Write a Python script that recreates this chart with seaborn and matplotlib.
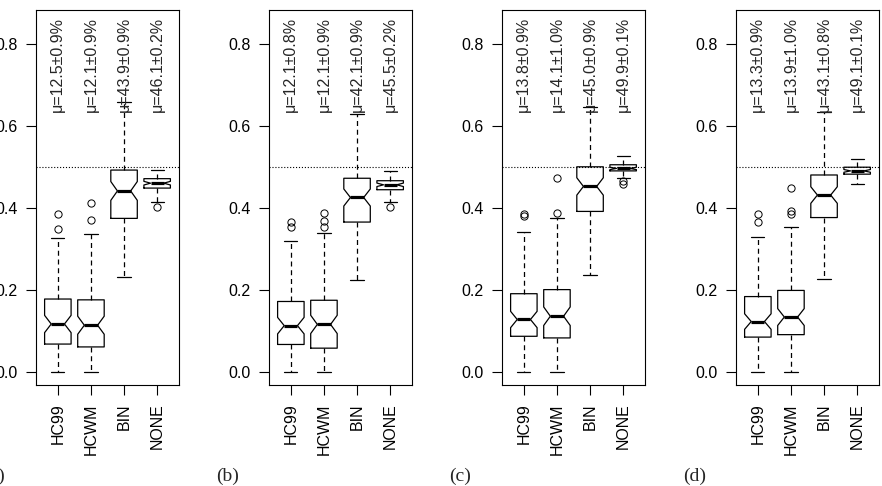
import numpy as np
import pandas as pd
import seaborn as sns
import matplotlib.pyplot as plt

methods = ['HC99', 'HCWM', 'BIN', 'NONE']
panel_names = ['(a)', '(b)', '(c)', '(d)']

# one row per panel, one column per method
whisk_lo = [[0.0, 0.0, 0.231, 0.416],
            [0.0, 0.0, 0.225, 0.414],
            [0.0, 0.0, 0.237, 0.473],
            [0.0, 0.0, 0.227, 0.459]]
q1 = [[0.068, 0.061, 0.375, 0.449],
      [0.067, 0.058, 0.366, 0.445],
      [0.087, 0.083, 0.392, 0.491],
      [0.085, 0.091, 0.377, 0.483]]
median = [[0.117, 0.114, 0.442, 0.461],
          [0.113, 0.116, 0.426, 0.457],
          [0.128, 0.136, 0.453, 0.497],
          [0.123, 0.134, 0.432, 0.491]]
q3 = [[0.178, 0.176, 0.493, 0.472],
      [0.172, 0.175, 0.473, 0.467],
      [0.191, 0.201, 0.501, 0.506],
      [0.184, 0.199, 0.481, 0.500]]
whisk_hi = [[0.326, 0.337, 0.660, 0.493],
            [0.320, 0.339, 0.630, 0.491],
            [0.342, 0.376, 0.648, 0.527],
            [0.329, 0.355, 0.635, 0.520]]
outliers = [[[0.348, 0.385], [0.372, 0.413], [], [0.402]],
            [[0.353, 0.367], [0.353, 0.369, 0.388], [], [0.404]],
            [[0.382, 0.385], [0.389, 0.473], [], [0.459, 0.466]],
            [[0.366, 0.385], [0.386, 0.392, 0.449], [], []]]
mu_labels = [['μ=12.5±0.9%', 'μ=12.1±0.9%', 'μ=43.9±0.9%', 'μ=46.1±0.2%'],
             ['μ=12.1±0.8%', 'μ=12.1±0.9%', 'μ=42.1±0.9%', 'μ=45.5±0.2%'],
             ['μ=13.8±0.9%', 'μ=14.1±1.0%', 'μ=45.0±0.9%', 'μ=49.9±0.1%'],
             ['μ=13.3±0.9%', 'μ=13.9±1.0%', 'μ=43.1±0.8%', 'μ=49.1±0.1%']]

# repeats per quartile block, so the notch width comes out like the original (n ~ 65)
block = 21

sns.set_style('ticks')
plt.rcParams['font.family'] = ['Liberation Sans', 'DejaVu Sans']

W, H = 882, 486
fig = plt.figure(figsize=(W / 100, H / 100), dpi=100)
lefts = [36, 269, 502, 736]

for p in range(4):
    # build a sample per box that gives back the read quartiles/whiskers/outliers
    rows = []
    for i, m in enumerate(methods):
        vals = ([whisk_lo[p][i]] + [q1[p][i]] * block + [median[p][i]] * block +
                [q3[p][i]] * block + [whisk_hi[p][i]] + outliers[p][i])
        rows += [(m, v) for v in vals]
    df = pd.DataFrame(rows, columns=['method', 'value'])

    ax = fig.add_axes([lefts[p] / W, (H - 385) / H, 143 / W, 375 / H])
    sns.boxplot(data=df, x='method', y='value', order=methods, ax=ax,
                notch=True, fill=False, color='black', width=0.8, linewidth=0.9,
                whis=1.5,
                medianprops={'linewidth': 2.3},
                whiskerprops={'linestyle': (0, (4, 3))},
                flierprops={'marker': 'o', 'markersize': 5.2, 'markerfacecolor': 'none',
                            'markeredgecolor': 'black', 'markeredgewidth': 0.7})
    ax.axhline(0.5, linestyle=':', color='black', linewidth=0.8, zorder=0)
    for i in range(4):
        ax.text(i, 0.635, mu_labels[p][i], rotation=90, ha='center', va='bottom',
                fontsize=11.5)

    ax.set_xlim(-0.66, 3.66)
    ax.set_ylim(-0.032, 0.884)
    ax.set_yticks([0.0, 0.2, 0.4, 0.6, 0.8])
    ax.set_yticklabels(['0.0', '0.2', '0.4', '0.6', '0.8'])
    ax.set_xticks(range(4))
    ax.set_xticklabels(methods, rotation=90)
    ax.set_xlabel('')
    ax.set_ylabel('')
    ax.tick_params(length=7, width=0.8, pad=6, labelsize=11.5, colors='black')
    for s in ax.spines.values():
        s.set_linewidth(0.8)
        s.set_color('black')

    fig.text((lefts[p] - 53) / W, 1 - 476 / H, panel_names[p], family='Liberation Serif',
             fontsize=14, va='center', ha='left')

fig.savefig('out.png', dpi=100)
